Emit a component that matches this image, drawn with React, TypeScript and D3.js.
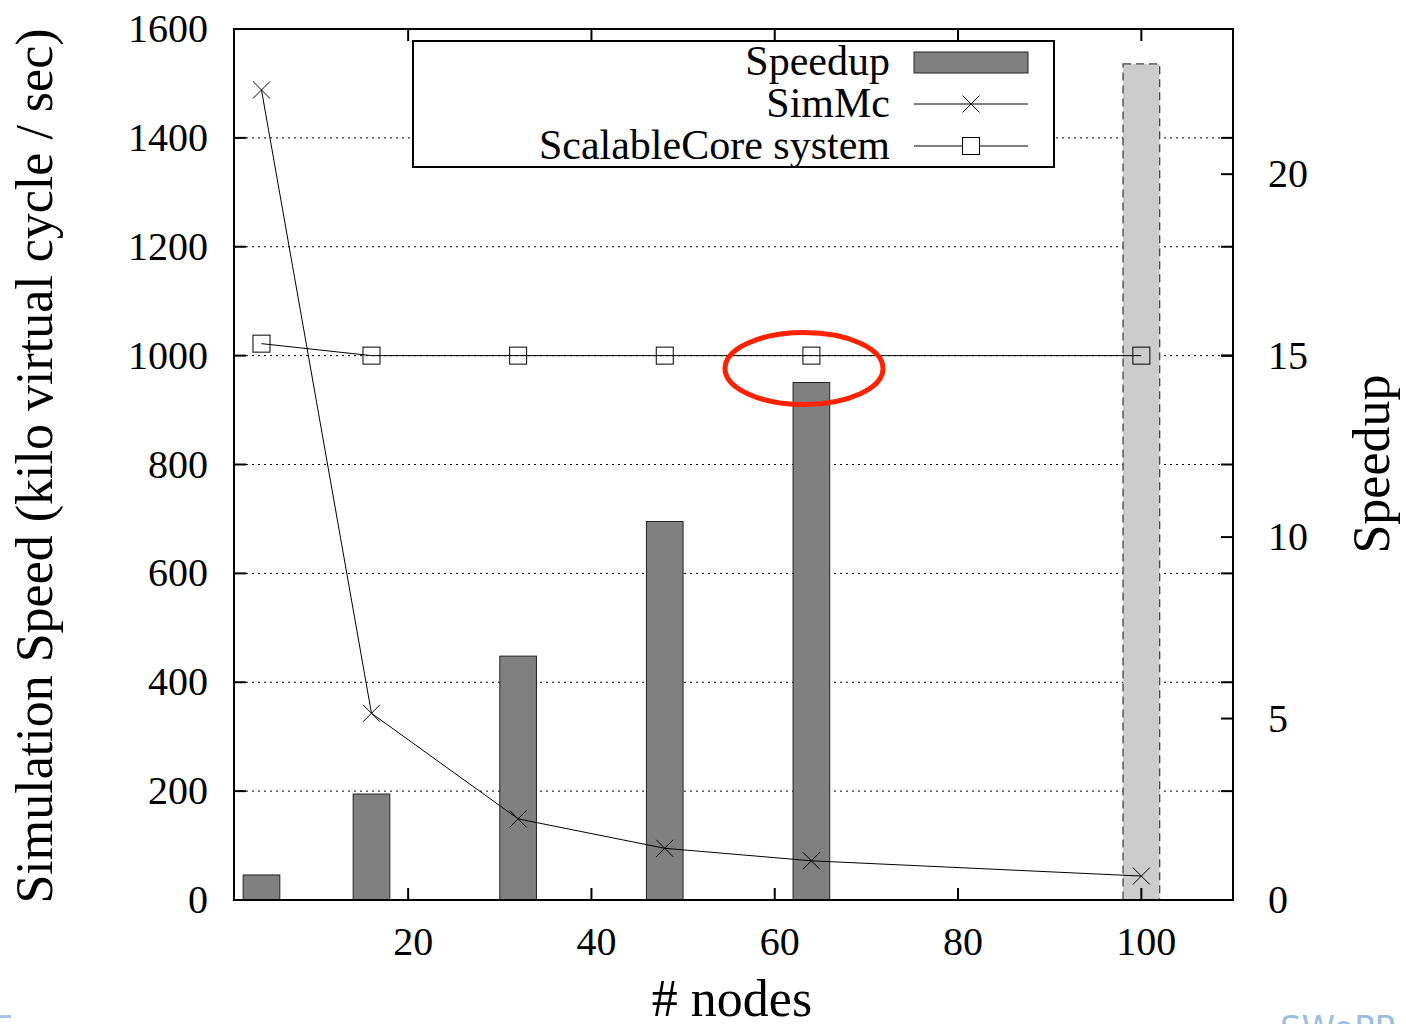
import React from "react";
import * as d3 from "d3";

const nodes = [4, 16, 32, 48, 64, 100];
const speedup = [0.69, 2.92, 6.72, 10.43, 14.26, 23.04];
const simMc = [1488, 343, 149, 95, 72, 44];
const scalableCore = [1022, 1000, 1000, 1000, 1000, 1000];
const xTicks = [20, 40, 60, 80, 100];
const yTicks = [0, 200, 400, 600, 800, 1000, 1200, 1400, 1600];
const y2Ticks = [0, 5, 10, 15, 20];
const seriesNames = ["Speedup", "SimMc", "ScalableCore system"];

const W = 1406, H = 1024;
const L = 234, R = 1233, T = 29, B = 900;
const FONT = "'Liberation Serif', 'Times New Roman', serif";

export default function App() {
  const x = d3.scaleLinear().domain([1, 110]).range([L, R]);
  const y = d3.scaleLinear().domain([0, 1600]).range([B, T]);
  const y2 = d3.scaleLinear().domain([0, 24]).range([B, T]);
  const lineSim = d3.line<number>().x((_, i) => x(nodes[i])).y((d) => y(d));
  const tl = 12;
  const cross = (cx: number, cy: number, s = 8.5) =>
    `M${cx - s},${cy - s}L${cx + s},${cy + s}M${cx - s},${cy + s}L${cx + s},${cy - s}`;
  const sq = 8.5;
  const lgX1 = 914, lgX2 = 1028, lgMid = 971;

  return (
    <svg width={W} height={H} style={{ position: "absolute", left: 0, top: 0, background: "#fff" }} fontFamily={FONT}>
      {/* grid */}
      {yTicks.filter((t) => t > 0 && t < 1600).map((t) => (
        <line key={"g" + t} x1={L} x2={R} y1={y(t)} y2={y(t)} stroke="#000" strokeWidth={1} strokeDasharray="2,4" />
      ))}
      {/* bars */}
      {nodes.map((n, i) => {
        const last = i === nodes.length - 1;
        return (
          <rect key={"b" + n} x={x(n - 2)} width={x(n + 2) - x(n - 2)} y={y2(speedup[i])} height={B - y2(speedup[i])}
            fill={last ? "#cccccc" : "#808080"} stroke={last ? "#444" : "#222"} strokeWidth={last ? 1.3 : 1}
            strokeDasharray={last ? "8,5" : undefined} />
        );
      })}
      {/* SimMc line */}
      <path d={lineSim(simMc) || ""} fill="none" stroke="#000" strokeWidth={1} />
      {simMc.map((v, i) => (
        <path key={"x" + i} d={cross(x(nodes[i]), y(v))} stroke="#000" strokeWidth={1} fill="none" />
      ))}
      {/* ScalableCore line */}
      <path d={lineSim(scalableCore) || ""} fill="none" stroke="#000" strokeWidth={1} />
      {scalableCore.map((v, i) => (
        <rect key={"s" + i} x={x(nodes[i]) - sq} y={y(v) - sq} width={sq * 2} height={sq * 2} fill="none" stroke="#000" strokeWidth={1} />
      ))}
      {/* legend */}
      <rect x={413} y={41} width={641} height={126} fill="#fff" stroke="#000" strokeWidth={2} />
      <text x={890} y={75} fontSize={42} textAnchor="end">{seriesNames[0]}</text>
      <rect x={lgX1} y={52} width={lgX2 - lgX1} height={21} fill="#808080" stroke="#222" strokeWidth={1} />
      <text x={890} y={117} fontSize={42} textAnchor="end">{seriesNames[1]}</text>
      <line x1={lgX1} x2={lgX2} y1={104} y2={104} stroke="#000" strokeWidth={1} />
      <path d={cross(lgMid, 104)} stroke="#000" strokeWidth={1} fill="none" />
      <text x={890} y={159} fontSize={42} textAnchor="end">{seriesNames[2]}</text>
      <line x1={lgX1} x2={lgX2} y1={146} y2={146} stroke="#000" strokeWidth={1} />
      <rect x={lgMid - sq} y={146 - sq} width={sq * 2} height={sq * 2} fill="#fff" stroke="#000" strokeWidth={1} />
      {/* frame */}
      <rect x={L} y={T} width={R - L} height={B - T} fill="none" stroke="#000" strokeWidth={2} />
      {/* x ticks */}
      {xTicks.map((t) => (
        <g key={"xt" + t}>
          <line x1={x(t)} x2={x(t)} y1={B} y2={B - tl} stroke="#000" strokeWidth={2} />
          <line x1={x(t)} x2={x(t)} y1={T} y2={T + tl} stroke="#000" strokeWidth={2} />
          <text x={x(t) + 5} y={955} fontSize={40} textAnchor="middle">{t}</text>
        </g>
      ))}
      {/* y ticks */}
      {yTicks.map((t) => (
        <g key={"yt" + t}>
          <line x1={L} x2={L + tl} y1={y(t)} y2={y(t)} stroke="#000" strokeWidth={2} />
          <line x1={R} x2={R - tl} y1={y(t)} y2={y(t)} stroke="#000" strokeWidth={2} />
          <text x={208} y={y(t) + 13} fontSize={40} textAnchor="end">{t}</text>
        </g>
      ))}
      {y2Ticks.map((t) => (
        <g key={"y2t" + t}>
          <line x1={R} x2={R - tl} y1={y2(t)} y2={y2(t)} stroke="#000" strokeWidth={2} />
          <text x={1268} y={y2(t) + 13} fontSize={40} textAnchor="start">{t}</text>
        </g>
      ))}
      {/* axis labels */}
      <text transform="translate(52,466) rotate(-90)" fontSize={52} textAnchor="middle">Simulation Speed (kilo virtual cycle / sec)</text>
      <text transform="translate(1389,464) rotate(-90)" fontSize={52} textAnchor="middle">Speedup</text>
      <text x={732} y={1016} fontSize={52} textAnchor="middle"># nodes</text>
      {/* annotation ellipse */}
      <ellipse cx={804} cy={368.5} rx={79} ry={36} fill="none" stroke="#ff2200" strokeWidth={5} />
      {/* slide footer remnants */}
      <text x={1280} y={1040} fontSize={34} fill="#9dbde3" fontFamily="'DejaVu Sans', sans-serif">SWoPP</text>
      <rect x={0} y={1015} width={11} height={3} fill="#a8c4e6" />
    </svg>
  );
}
